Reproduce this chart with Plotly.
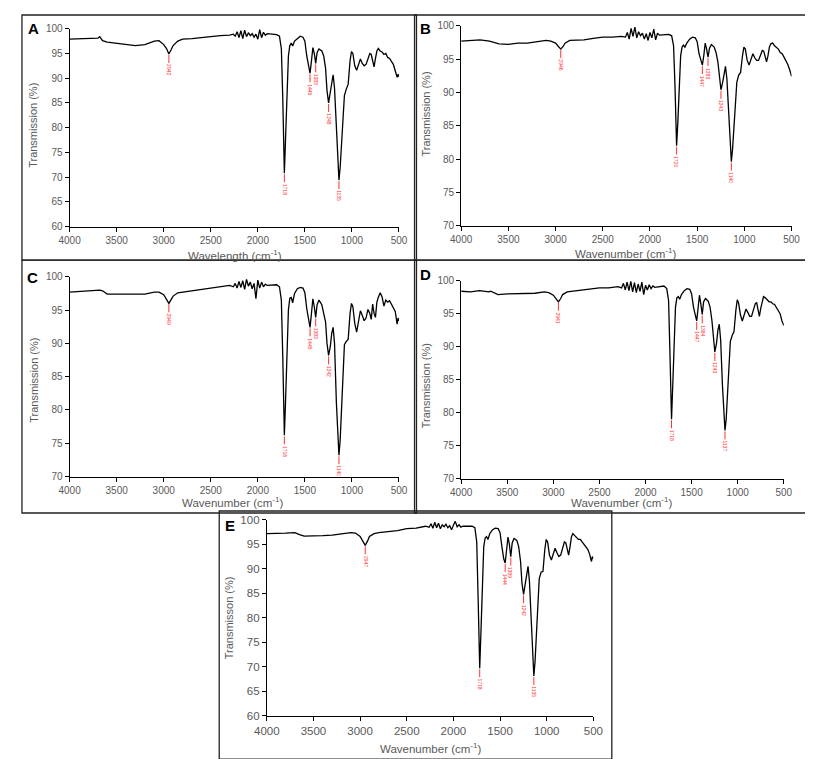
import plotly.graph_objects as go

# ---------------- data ----------------
WN = [4000, 3900, 3800, 3700, 3680, 3650, 3600, 3500, 3400, 3300, 3200, 3100, 3050, 3000, 2970, 2945, 2920, 2900, 2850, 2800,
      2700, 2600, 2500, 2400, 2300, 2260, 2240, 2220, 2200, 2180, 2160, 2140, 2120, 2100, 2080, 2060, 2040, 2020, 2000, 1980,
      1960, 1940, 1920, 1900, 1850, 1800, 1770, 1750, 1735, 1718, 1705, 1690, 1675, 1660, 1645, 1630, 1610, 1580, 1550, 1520,
      1500, 1480, 1460, 1445, 1430, 1415, 1400, 1385, 1370, 1350, 1320, 1300, 1280, 1265, 1248, 1230, 1215, 1200, 1185, 1165,
      1150, 1138, 1125, 1110, 1095, 1080, 1060, 1040, 1020, 1005, 990, 970, 950, 930, 910, 890, 870, 850, 830, 810,
      795, 780, 765, 750, 735, 720, 700, 680, 660, 640, 620, 600, 580, 560, 540, 520, 510, 500]

T_A = [97.9, 98.0, 98.0, 98.1, 98.4, 97.6, 97.3, 97.1, 96.9, 96.6, 96.8, 97.5, 97.6, 96.8, 96.0, 94.9, 95.8, 96.6, 97.5, 97.9,
       98.0, 98.2, 98.5, 98.6, 98.7, 98.9, 98.5, 99.4, 98.2, 99.6, 98.0, 99.7, 98.4, 99.2, 98.6, 99.0, 98.3, 98.9, 97.9, 99.8,
       98.2, 99.3, 98.7, 99.0, 98.9, 98.8, 98.5, 96.0, 86.0, 70.8, 78.0, 88.0, 94.5, 96.6, 97.1, 96.5, 97.5, 98.0, 98.5, 98.3,
       97.5, 94.5, 92.0, 91.0, 93.5, 96.2, 95.0, 93.0, 95.2, 95.9, 95.5, 94.5, 92.0, 87.5, 85.0, 87.5, 89.5, 90.7, 88.0, 79.0,
       72.5, 69.4, 72.0, 77.0, 82.0, 86.5, 87.8, 88.8, 93.5, 95.4, 95.0, 92.5, 91.6, 93.0, 93.9, 93.0, 92.5, 92.8, 94.0, 95.0,
       94.8, 93.5, 92.3, 94.0, 95.5, 96.0, 95.5, 95.3, 94.8, 95.0, 94.2, 94.0, 93.5, 92.8, 91.5, 90.2, 90.8, 90.3]

T_B = [97.7, 97.8, 97.9, 97.7, 97.6, 97.5, 97.3, 97.2, 97.4, 97.4, 97.6, 97.8, 97.7, 97.4, 96.9, 96.5, 96.9, 97.4, 97.8, 97.8,
       97.9, 98.1, 98.3, 98.3, 98.4, 98.3, 99.0, 98.0, 99.6, 98.4, 99.8, 98.2, 99.1, 98.5, 98.9, 98.0, 98.8, 97.8, 99.0, 98.2,
       99.5, 97.9, 98.9, 98.6, 98.7, 98.7, 98.5, 97.0, 91.0, 82.0, 85.5, 91.5, 95.5, 96.8, 97.1, 96.8, 97.4, 98.0, 98.3, 98.2,
       97.6, 95.8, 94.6, 94.1, 95.5, 97.4, 96.5, 95.3, 96.6, 97.2, 96.8, 96.0, 94.5, 92.0, 90.4, 91.5, 93.0, 93.9, 92.0, 86.5,
       81.5, 79.6, 81.5, 85.0, 88.5, 91.5, 92.6, 93.0, 95.5, 96.8, 96.5, 94.8, 94.1, 95.0, 95.8, 95.2, 94.8, 94.8, 95.6, 96.3,
       96.2, 95.5, 94.6, 95.5, 96.8, 97.3, 97.4, 97.0, 96.8, 96.5, 96.0, 95.8, 95.3, 94.8, 94.2, 93.4, 93.0, 92.4]

T_C = [97.7, 97.8, 97.8, 97.9, 98.0, 97.9, 97.4, 97.4, 97.4, 97.3, 97.4, 97.7, 97.7, 97.3, 96.6, 96.0, 96.6, 97.1, 97.6, 97.7,
       97.9, 98.1, 98.3, 98.5, 98.7, 98.5, 99.0, 98.3, 99.3, 98.4, 99.4, 98.1, 99.6, 98.6, 99.2, 98.2, 99.0, 96.7, 99.5, 98.3,
       99.2, 98.5, 98.9, 98.7, 98.8, 98.8, 98.5, 96.5, 88.0, 76.2, 81.5, 89.5, 95.0, 96.8, 96.9, 96.1, 97.5, 98.2, 98.4, 98.3,
       97.6, 95.2, 93.2, 92.4, 94.5, 96.7, 95.5, 93.9, 95.8, 96.5, 95.8, 94.5, 93.2, 90.0, 88.2, 89.5, 91.5, 92.4, 90.0, 81.0,
       75.0, 73.2, 75.5, 80.5, 85.5, 89.8, 90.3, 90.6, 94.5, 96.0, 95.5, 93.0, 91.7, 93.5, 94.9, 94.2, 93.4, 93.8, 95.1, 94.5,
       93.6, 95.9, 94.5, 93.9, 96.2, 96.9, 97.6, 97.0, 95.6, 96.5, 96.2, 96.4, 95.8, 95.3, 94.8, 92.9, 93.8, 93.4]

T_D = [98.4, 98.3, 98.5, 98.3, 98.4, 98.2, 97.9, 98.0, 98.0, 98.0, 98.1, 98.3, 98.2, 97.8, 97.2, 96.8, 97.3, 97.9, 98.3, 98.4,
       98.5, 98.7, 98.9, 98.9, 99.1, 98.9, 99.6, 98.6, 99.8, 98.5, 99.9, 98.3, 99.7, 98.2, 99.5, 98.4, 99.8, 97.9, 99.3, 98.6,
       99.4, 98.8, 99.2, 99.0, 99.1, 99.2, 98.8, 97.0, 89.0, 79.0, 84.0, 91.0, 96.0, 97.4, 97.6, 97.2, 97.9, 98.5, 98.8, 98.7,
       98.0, 96.0, 94.5, 93.9, 95.8, 97.8, 96.5, 94.9, 96.8, 97.3, 96.9, 96.0, 94.0, 91.0, 89.2, 90.5, 92.5, 93.4, 91.0, 84.0,
       79.0, 77.3, 79.0, 83.5, 88.0, 90.8, 91.7, 92.3, 95.5, 97.1, 96.6, 94.8, 93.9, 94.9, 95.7, 95.2, 94.6, 94.6, 95.5, 96.5,
       96.7, 95.8, 94.6, 95.8, 97.0, 97.6, 97.4, 97.0, 96.8, 96.8, 96.5, 96.4, 96.0, 95.5, 95.0, 93.9, 93.6, 93.2]

T_E = [97.2, 97.2, 97.3, 97.4, 97.3, 97.0, 96.7, 96.7, 96.8, 96.9, 97.1, 97.4, 97.3, 96.6, 95.6, 94.8, 95.7, 96.6, 97.2, 97.4,
       97.6, 97.8, 98.2, 98.3, 98.7, 98.5, 99.2, 98.3, 99.5, 98.4, 99.3, 98.2, 99.0, 98.6, 99.1, 98.4, 98.8, 98.0, 98.9, 99.7,
       98.6, 99.0, 98.5, 98.7, 98.7, 98.7, 98.4, 95.5, 84.0, 69.7, 77.0, 88.0, 94.5, 96.3, 96.6, 96.0, 97.2, 98.0, 98.3, 98.2,
       97.4, 94.5, 92.0, 91.2, 93.8, 96.5, 95.0, 92.5, 95.3, 96.2, 95.8, 94.5, 91.5, 87.0, 84.8, 87.0, 89.5, 90.5, 87.5, 78.0,
       70.5, 68.1, 71.0, 77.5, 84.0, 88.0, 89.3, 89.5, 94.0, 96.0, 95.5, 92.8, 91.8, 93.2, 94.2, 93.3, 92.5, 92.8, 94.3, 95.5,
       95.3, 94.0, 92.8, 94.5, 96.5, 97.2, 96.8, 96.5, 96.0, 96.0, 95.5, 95.2, 94.5, 94.0, 93.0, 91.5, 92.5, 92.1]

PEAKS_A = [2942, 1718, 1445, 1383, 1248, 1135]
PEAKS_B = [2946, 1720, 1447, 1383, 1243, 1140]
PEAKS_C = [2949, 1716, 1445, 1383, 1242, 1140]
PEAKS_D = [2941, 1718, 1447, 1384, 1243, 1137]
PEAKS_E = [2947, 1718, 1444, 1389, 1242, 1135]

PANEL_LETTERS = ["A", "B", "C", "D", "E"]
X_TITLES = ["Wavelength (cm<sup>-1</sup>)", "Wavenumber (cm<sup>-1</sup>)", "Wavenumber (cm<sup>-1</sup>)",
            "Wavenumber (cm<sup>-1</sup>)", "Wavenumber (cm<sup>-1</sup>)"]
Y_TITLES = ["Transmission (%)", "Transmission (%)", "Transmission (%)", "Transmission (%)", "Transmisson (%)"]
Y_MIN = [60, 70, 70, 70, 60]

# ---------------- layout helpers ----------------
W, H = 813, 759
def px(x): return x / W
def py(y): return 1 - y / H

FONT = "Liberation Sans, Arial, sans-serif"
GRAY = "#595959"

# plot areas in pixels: (left, right, top, bottom)
areas = [(50, 389, 15, 216), (453, 793, 12, 215), (50, 389, 267, 470), (453, 785, 271, 472), (253, 589, 514, 713)]
boxes = [(1, 407, 1, 250), (405, 812, 1, 250), (1, 407, 250, 507), (405, 812, 250, 507), (204, 608, 505, 757)]
letters_pos = [(13, 15), (416, 15), (12, 268), (416, 265), (215, 520)]
ytitle_pos = [(13, 113), (417, 102), (13, 372), (417, 378), (214, 613)]
xtitle_pos = [(220, 245), (622, 243), (218, 496), (618, 496), (421, 746)]
tick_sizes = [10, 10, 10, 10, 11.5]

series = [T_A, T_B, T_C, T_D, T_E]
peaks = [PEAKS_A, PEAKS_B, PEAKS_C, PEAKS_D, PEAKS_E]

fig = go.Figure()
layout = dict(width=W, height=H, margin=dict(l=0, r=0, t=0, b=0), paper_bgcolor="white",
              plot_bgcolor="white", showlegend=False, font=dict(family=FONT, color=GRAY))
annotations = []
shapes = []

for i in range(5):
    n = "" if i == 0 else str(i + 1)
    xa, ya = "x" + n, "y" + n
    fig.add_trace(go.Scatter(x=WN, y=series[i], mode="lines", line=dict(color="black", width=1.3),
                             xaxis=xa, yaxis=ya, hoverinfo="skip"))
    l, r, t, b = areas[i]
    layout["xaxis" + n] = dict(domain=[px(l), px(r)], anchor=ya, range=[4000, 500], dtick=500, tick0=500,
                               showline=True, linecolor="black", linewidth=1, ticks="outside", ticklen=4,
                               tickcolor="black", showgrid=False, zeroline=False,
                               tickfont=dict(size=tick_sizes[i], color=GRAY, family=FONT))
    layout["yaxis" + n] = dict(domain=[py(b), py(t)], anchor=xa, range=[Y_MIN[i], 100], dtick=5,
                               showline=True, linecolor="black", linewidth=1, ticks="outside", ticklen=4,
                               tickcolor="black", showgrid=False, zeroline=False,
                               tickfont=dict(size=tick_sizes[i], color=GRAY, family=FONT))
    # box
    bx0, bx1, by0, by1 = boxes[i]
    shapes.append(dict(type="rect", xref="paper", yref="paper", x0=px(bx0), x1=px(bx1), y0=py(by1), y1=py(by0),
                       line=dict(color="#222222", width=1.3)))
    # letter
    lx, ly = letters_pos[i]
    annotations.append(dict(xref="paper", yref="paper", x=px(lx), y=py(ly), text="<b>%s</b>" % PANEL_LETTERS[i],
                            showarrow=False, xanchor="center", yanchor="middle",
                            font=dict(size=15, color="black", family=FONT)))
    # axis titles
    tx, ty = ytitle_pos[i]
    annotations.append(dict(xref="paper", yref="paper", x=px(tx), y=py(ty), text=Y_TITLES[i], textangle=-90,
                            showarrow=False, xanchor="center", yanchor="middle",
                            font=dict(size=11, color=GRAY, family=FONT)))
    tx, ty = xtitle_pos[i]
    annotations.append(dict(xref="paper", yref="paper", x=px(tx), y=py(ty), text=X_TITLES[i],
                            showarrow=False, xanchor="center", yanchor="middle",
                            font=dict(size=11.5, color=GRAY, family=FONT)))
    # peak labels
    for p in peaks[i]:
        idx = min(range(len(WN)), key=lambda k: abs(WN[k] - p))
        annotations.append(dict(xref=xa, yref=ya, x=WN[idx], y=series[i][idx], text=str(p), textangle=90,
                                showarrow=True, arrowhead=0, arrowwidth=1, arrowcolor="#ff3333",
                                ax=0, ay=16, standoff=1,
                                font=dict(size=5, color="#ff3333", family=FONT)))

layout["annotations"] = annotations
layout["shapes"] = shapes
fig.update_layout(**layout)
fig.write_html("out.html")
